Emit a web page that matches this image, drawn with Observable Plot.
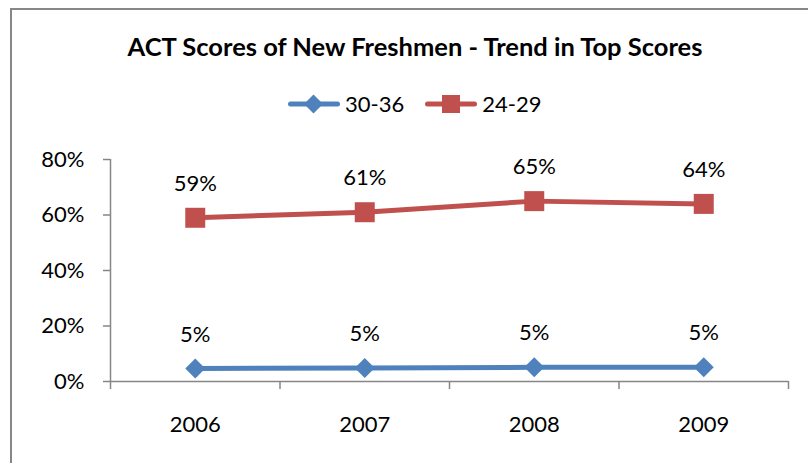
<!DOCTYPE html>
<html>
<head>
<meta charset="utf-8">
<script src="https://cdn.jsdelivr.net/npm/d3@7"></script>
<script src="https://cdn.jsdelivr.net/npm/@observablehq/plot@0.6"></script>
<style>
  html, body { margin: 0; padding: 0; background: #fff; }
  #wrap { position: relative; width: 808px; height: 463px; overflow: hidden; font-family: Lato, "Open Sans", sans-serif; color: #000; }
  #frame { position: absolute; left: 10px; top: 8px; width: 900px; height: 600px; border: 2px solid #878787; box-sizing: border-box; }
  #title { position: absolute; left: 0; top: 31px; width: 808px; padding-left: 22px; box-sizing: border-box; text-align: center; font-weight: bold; font-size: 25.5px; line-height: 30px; }
  #legend { position: absolute; left: 288px; top: 89px; display: flex; align-items: center; font-size: 22px; line-height: 30px; }
  #legend .item { display: flex; align-items: center; }
  #legend svg { display: block; }
  #chart { position: absolute; left: 0; top: 130px; }
</style>
</head>
<body>
<div id="wrap">
  <div id="frame"></div>
  <div id="title">ACT Scores of New Freshmen - Trend in Top Scores</div>
  <div id="legend"></div>
  <div id="chart"></div>
</div>
<script>
// ---- data ----
const years = [2006, 2007, 2008, 2009];
const series = ["30-36", "24-29"];
const values3036 = [0.047, 0.049, 0.051, 0.051];
const values2429 = [0.59, 0.61, 0.65, 0.64];
const colors = ["#4F81BD", "#C0504D"];
const yTicks = [0, 0.2, 0.4, 0.6, 0.8];
const titleText = "ACT Scores of New Freshmen - Trend in Top Scores";

const pct = d3.format(".0%");
const data = years.flatMap((yr, i) => [
  {year: yr, value: values3036[i], series: series[0]},
  {year: yr, value: values2429[i], series: series[1]}
]);
const boundaries = [years[0] - 0.5, ...years.map(y => y + 0.5)];

// custom symbols: size = pi * r^2 in Plot
const diamond = {draw(ctx, size) { const r = Math.sqrt(size / Math.PI); ctx.moveTo(0, -r); ctx.lineTo(r, 0); ctx.lineTo(0, r); ctx.lineTo(-r, 0); ctx.closePath(); }};
const square = {draw(ctx, size) { const r = Math.sqrt(size / Math.PI); ctx.rect(-r, -r, 2 * r, 2 * r); }};
const symbols = [diamond, square];

// legend (HTML)
const legend = document.getElementById("legend");
series.forEach((s, i) => {
  const item = document.createElement("div");
  item.className = "item";
  item.style.marginRight = i === 0 ? "21px" : "0";
  const shape = i === 0
    ? `<path d="M25.5,-9.5L35,0L25.5,9.5L16,0Z" fill="${colors[i]}"/>`
    : `<rect x="17" y="-9" width="18" height="18" fill="${colors[i]}"/>`;
  item.innerHTML = `<svg width="52" height="24" viewBox="0 -12 52 24"><line x1="2.5" x2="49.5" y1="0" y2="0" stroke="${colors[i]}" stroke-width="5" stroke-linecap="round"/>${shape}</svg><span style="margin-left:5px">${s}</span>`;
  legend.appendChild(item);
});

const axisColor = "#868686";
const chart = Plot.plot({
  width: 808,
  height: 333,
  marginTop: 29,
  marginBottom: 82,
  marginLeft: 110,
  marginRight: 20,
  x: {domain: [boundaries[0], boundaries[boundaries.length - 1]]},
  y: {domain: [0, 0.8]},
  color: {domain: series, range: colors},
  style: {fontFamily: "Lato, 'Open Sans', sans-serif", fontSize: "22px", color: "#000", background: "transparent"},
  marks: [
    Plot.ruleX([boundaries[0]], {y1: 0, y2: 0.8, stroke: axisColor, strokeWidth: 1.5}),
    Plot.ruleY([0], {stroke: axisColor, strokeWidth: 1.5}),
    Plot.axisY({ticks: yTicks, tickFormat: pct, tickSize: 7, tickPadding: 19, stroke: axisColor, strokeWidth: 1.5, label: null, fill: "#000"}),
    Plot.axisX({ticks: boundaries, tickFormat: () => "", tickSize: 8, stroke: axisColor, strokeWidth: 1.5, label: null}),
    Plot.axisX({ticks: years, tickFormat: d => String(d), tickSize: 0, tickPadding: 35, label: null, fill: "#000"}),
    Plot.line(data, {x: "year", y: "value", z: "series", stroke: "series", strokeWidth: 5}),
    ...series.map((s, i) => Plot.dot(data.filter(d => d.series === s), {x: "year", y: "value", symbol: () => symbols[i], r: 10, fill: colors[i], stroke: "none"})),
    Plot.text(data, {x: "year", y: "value", text: d => pct(d.value), dy: -34, fill: "#000", fontSize: 22})
  ]
});
document.getElementById("chart").appendChild(chart);
</script>
</body>
</html>
